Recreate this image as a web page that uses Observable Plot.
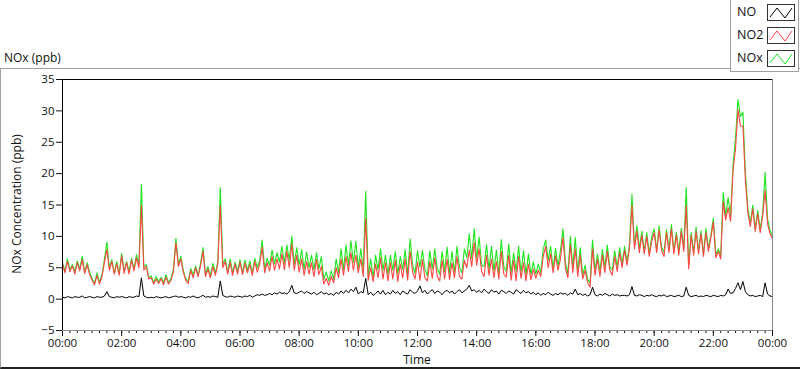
<!DOCTYPE html>
<html>
<head>
<meta charset="utf-8">
<script src="https://cdn.jsdelivr.net/npm/d3@7"></script>
<script src="https://cdn.jsdelivr.net/npm/@observablehq/plot@0.6"></script>
<style>
  html, body { margin:0; padding:0; background:#fff; }
  #wrap { position:relative; width:800px; height:369px; overflow:hidden; font-family:"Open Sans", sans-serif; color:#111; }
  #chart { position:absolute; left:0; top:0; }
  .frame { position:absolute; left:0; top:68px; width:800px; height:298px; border-top:1px solid #a0a0a0; border-left:1px solid #a0a0a0; border-bottom:2px solid #222; box-sizing:content-box; }
  .title { position:absolute; left:4px; top:49px; font-size:12px; }
  .ylab { position:absolute; left:16px; top:204px; font-size:12px; transform:translate(-50%,-50%) rotate(-90deg); white-space:nowrap; }
  .xlab { position:absolute; left:417px; top:351px; font-size:12px; transform:translateX(-50%); }
  .legend { position:absolute; left:730px; top:-1px; width:69px; height:73px; background:#fff; border:1px solid #a0a0a0; box-sizing:border-box; }
  .li { position:absolute; left:6px; font-size:12.5px; }
  .sw { position:absolute; left:36px; width:28px; height:17px; }
</style>
</head>
<body>
<div id="wrap">
  <div class="frame"></div>
  <div id="chart"></div>
  <div class="title">NOx (ppb)</div>
  <div class="ylab">NOx Concentration (ppb)</div>
  <div class="xlab">Time</div>
  <div class="legend" id="legend"></div>
</div>
<script>
// time in minutes since 00:00, 5-minute steps (0 .. 1440)
const minutes = d3.range(0, 1441, 5);

// NO2 (ppb), one row per hour
const no2 = [
  5.6,4.2,6.0,4.4,5.3,4.0,5.8,4.5,6.3,4.1,5.5,3.9,
  3.0,2.3,3.8,2.4,3.6,5.8,7.9,4.6,6.0,4.0,5.6,3.8,
  6.9,4.1,5.8,4.0,6.2,4.5,6.6,5.0,14.9,4.6,5.2,3.2,
  3.4,2.4,3.2,2.5,3.3,2.3,3.5,2.4,3.0,4.4,9.0,5.2,
  6.4,4.3,3.0,2.5,4.6,3.4,5.0,3.6,5.3,7.6,3.6,4.8,
  3.4,5.2,3.8,5.6,14.9,5.0,6.0,4.0,5.9,3.8,5.6,4.0,
  5.9,3.9,5.7,4.2,5.5,3.8,6.0,4.3,5.6,8.3,4.2,5.8,
  4.5,6.8,4.6,6.4,4.8,7.2,4.7,7.6,5.0,8.8,4.6,7.0,
  4.3,6.4,3.8,6.0,4.0,5.8,3.6,6.3,3.9,5.2,2.4,3.3,
  2.2,3.6,2.6,5.0,3.4,6.4,3.8,6.8,4.4,7.4,4.6,7.0,
  4.2,6.4,3.6,12.9,3.0,5.0,2.8,5.6,3.4,6.6,3.2,5.8,
  2.9,5.8,3.2,6.2,2.8,5.6,3.4,6.4,3.0,7.6,4.4,3.2,
  5.9,3.0,6.3,3.4,2.9,6.0,3.3,6.6,3.6,2.9,6.2,3.2,
  6.4,3.1,5.8,3.4,6.8,3.6,3.2,6.2,5.0,7.8,5.2,9.0,
  5.4,8.0,4.4,3.6,7.0,3.8,6.4,3.4,6.0,3.2,7.6,4.0,
  3.5,7.0,3.0,6.2,2.9,6.8,3.3,5.8,2.9,5.6,3.1,4.8,
  3.3,4.6,3.6,6.8,8.4,5.0,7.2,4.2,6.9,4.6,6.4,9.8,
  5.0,3.4,8.6,4.2,8.0,3.6,7.0,3.2,4.6,2.6,1.9,8.0,
  3.8,6.4,3.6,7.0,4.2,7.6,4.6,3.8,6.8,4.4,7.4,5.0,
  7.8,5.4,8.2,14.9,8.0,10.8,7.4,10.2,7.2,10.0,6.8,9.2,
  10.6,7.4,11.0,7.8,6.8,10.6,7.4,11.2,7.2,10.2,7.0,10.8,
  7.6,14.9,4.8,10.2,7.0,10.8,7.2,10.4,6.8,10.6,7.6,9.8,
  12.3,6.6,7.6,6.4,15.5,12.6,14.6,12.4,20.5,24.0,30.2,27.6,
  27.6,19.0,13.8,11.6,14.4,10.8,13.6,10.6,13.2,17.3,12.0,10.4,
  9.6
];

// NO (ppb)
const no = [
  0.3,0.2,0.4,0.3,0.2,0.4,0.3,0.3,0.5,0.2,0.3,0.4,
  0.3,0.2,0.4,0.3,0.3,0.5,1.2,0.4,0.3,0.2,0.4,0.3,
  0.4,0.3,0.2,0.4,0.3,0.3,0.5,0.4,3.4,0.5,0.3,0.2,
  0.3,0.2,0.4,0.3,0.2,0.3,0.4,0.2,0.3,0.4,0.5,0.3,
  0.4,0.3,0.2,0.4,0.3,0.5,0.3,0.2,0.4,0.6,0.3,0.4,
  0.3,0.5,0.4,0.3,2.9,0.6,0.4,0.3,0.5,0.4,0.3,0.5,
  0.4,0.3,0.5,0.4,0.6,0.3,0.5,0.7,0.6,0.8,0.6,0.7,
  0.9,0.7,1.0,0.8,1.1,0.9,1.0,0.8,1.2,2.2,1.0,0.9,
  1.1,1.3,0.9,1.2,1.0,0.8,1.1,0.7,0.9,1.2,0.8,1.0,
  0.7,0.9,0.6,1.1,0.8,1.3,0.9,1.4,1.0,1.6,1.2,1.9,
  0.8,1.2,1.0,3.3,0.7,1.1,0.6,0.9,1.3,0.8,1.4,0.7,
  1.1,0.8,1.4,0.9,1.2,0.7,1.3,1.0,0.8,1.5,1.1,0.9,
  1.3,2.1,1.0,1.4,0.8,1.2,1.5,0.9,1.3,1.1,0.7,1.2,
  1.4,1.0,1.3,0.8,1.2,1.5,1.0,1.3,1.6,2.2,1.3,1.5,
  1.1,1.4,1.0,1.6,1.2,0.9,1.5,1.1,1.3,0.8,1.4,1.2,
  0.9,1.3,1.1,0.8,1.5,1.2,0.9,1.4,1.0,1.2,0.8,1.1,
  0.7,1.0,0.6,0.9,0.7,1.1,0.8,0.6,0.9,0.7,1.0,0.8,
  0.9,0.6,1.0,0.8,1.6,0.7,0.9,0.6,0.8,0.5,0.7,1.9,
  0.7,0.5,0.8,0.6,0.9,0.7,0.5,0.8,0.6,0.7,0.5,0.6,
  0.6,0.5,0.7,2.0,0.6,0.5,0.7,0.6,0.4,0.6,0.5,0.7,
  0.5,0.4,0.6,0.5,0.7,0.4,0.5,0.6,0.4,0.5,0.6,0.4,
  0.5,1.9,0.6,0.4,0.5,0.6,0.4,0.5,0.4,0.6,0.5,0.4,
  0.6,0.5,0.4,0.6,0.5,0.7,1.6,0.9,1.0,1.7,2.6,1.5,
  2.8,1.2,0.7,0.5,0.6,0.4,0.5,0.6,0.4,2.6,0.8,0.5,
  0.4
];

// NOx (ppb)
const nox = [
  5.9,4.4,6.4,4.7,5.5,4.4,6.1,4.8,6.8,4.3,5.8,4.3,
  3.3,2.5,4.2,2.7,3.9,6.3,9.1,5.0,6.3,4.2,6.0,4.1,
  7.3,4.4,6.0,4.4,6.5,4.8,7.1,5.4,18.3,5.1,5.5,3.4,
  3.7,2.6,3.6,2.8,3.5,2.6,3.9,2.6,3.3,4.8,9.7,5.5,
  6.8,4.6,3.2,2.9,4.9,3.9,5.3,3.8,5.7,8.2,3.9,5.2,
  3.7,5.7,4.2,5.9,17.8,5.6,6.4,4.3,6.4,4.2,5.9,4.5,
  6.3,4.2,6.2,4.6,6.1,4.1,6.5,5.0,6.2,9.4,4.8,6.5,
  5.4,7.8,5.6,7.4,5.9,8.4,5.7,8.6,6.2,10.0,5.6,8.2,
  5.4,7.9,4.7,7.5,5.0,7.0,4.7,7.4,4.8,6.8,3.2,4.3,
  2.9,4.5,3.2,6.4,4.2,8.0,4.7,8.6,5.4,9.3,5.8,9.2,
  5.0,8.0,4.6,17.2,3.7,6.4,3.4,7.0,4.7,8.0,4.6,7.0,
  4.0,7.0,4.6,7.6,4.0,6.8,4.7,7.9,3.8,9.6,5.5,4.1,
  7.7,5.1,7.8,4.8,3.7,7.7,4.8,8.0,4.9,4.0,7.6,4.4,
  8.3,4.1,7.6,4.2,8.4,5.1,4.2,8.0,6.6,10.4,6.5,11.2,
  6.5,9.9,5.4,5.2,8.7,4.7,8.4,4.5,7.8,4.0,9.5,5.2,
  4.4,8.8,4.1,7.4,4.4,8.4,4.2,7.7,3.9,7.2,3.9,5.9,
  4.0,5.6,4.2,8.0,9.4,6.1,8.4,4.8,8.1,5.3,7.8,11.2,
  5.9,4.0,10.0,5.0,9.8,4.3,8.2,3.8,5.4,3.1,2.6,9.4,
  4.5,7.2,4.4,7.9,5.1,8.6,5.1,4.6,7.7,5.1,8.2,5.6,
  8.4,5.9,8.9,16.7,8.6,11.7,8.1,10.8,7.6,10.6,7.3,9.9,
  11.2,7.8,11.7,8.3,7.5,11.1,7.9,11.9,7.6,10.7,7.6,11.3,
  8.1,17.8,5.4,10.6,7.5,11.5,7.6,10.9,7.2,11.3,8.1,10.2,
  12.9,7.1,8.0,7.0,17.0,13.3,16.2,13.3,21.5,25.7,31.8,29.1,
  29.8,20.2,14.5,12.1,15.0,11.2,14.1,11.2,13.6,20.2,12.8,10.9,
  10.0
];

const yTicks = [-5, 0, 5, 10, 15, 20, 25, 30, 35];
const xMajorTicks = d3.range(0, 1441, 120);   // every 2 hours
const xMinorTicks = d3.range(0, 1441, 15);    // every 15 minutes
const seriesNames = ["NO", "NO2", "NOx"];
const seriesColors = ["#000000", "#ff4545", "#1ee61e"];

const rows = minutes.map((t, i) => ({t, no: no[i], no2: no2[i], nox: nox[i]}));
const fmt = d => String(Math.floor(d / 60) % 24).padStart(2, "0") + ":00";

const chart = Plot.plot({
  width: 800,
  height: 369,
  marginLeft: 62,
  marginRight: 28,
  marginTop: 79,
  marginBottom: 39,
  style: {fontFamily: "Open Sans, sans-serif", fontSize: "11.5px", color: "#111", background: "transparent", overflow: "visible"},
  x: {domain: [0, 1440]},
  y: {domain: [-5, 35]},
  marks: [
    Plot.axisX({ticks: xMinorTicks, tickSize: 3, tickFormat: () => "", label: null}),
    Plot.axisX({ticks: xMajorTicks, tickSize: 6, tickPadding: 2, tickFormat: fmt, label: null}),
    Plot.axisY({ticks: yTicks, tickSize: 6, tickPadding: 2, label: null}),
    Plot.line(rows, {x: "t", y: "nox", stroke: seriesColors[2], strokeWidth: 1.1, curve: "linear", clip: true}),
    Plot.line(rows, {x: "t", y: "no2", stroke: seriesColors[1], strokeWidth: 1.1, curve: "linear", clip: true}),
    Plot.line(rows, {x: "t", y: "no", stroke: seriesColors[0], strokeWidth: 1, curve: "linear", clip: true}),
    Plot.ruleX([1440], {stroke: "#8c8c8c"}),
    Plot.ruleY([-5], {stroke: "#8c8c8c"}),
    Plot.ruleY([35], {stroke: "#000"}),
    Plot.ruleX([0], {stroke: "#000"})
  ]
});
document.getElementById("chart").appendChild(chart);

// legend
const leg = document.getElementById("legend");
seriesNames.forEach((name, i) => {
  const top = 3 + i * 23;
  const lab = document.createElement("div");
  lab.className = "li";
  lab.style.top = (top) + "px";
  lab.textContent = name;
  leg.appendChild(lab);
  const sw = document.createElementNS("http://www.w3.org/2000/svg", "svg");
  sw.setAttribute("class", "sw");
  sw.setAttribute("width", 28);
  sw.setAttribute("height", 17);
  sw.style.top = (top + 1) + "px";
  sw.innerHTML = `<rect x="0.5" y="0.5" width="27" height="16" fill="#fff" stroke="#333"/>
    <polyline points="3,13 10,4 18,14 25,4" fill="none" stroke="${seriesColors[i]}" stroke-width="1"/>`;
  leg.appendChild(sw);
});
</script>
</body>
</html>
